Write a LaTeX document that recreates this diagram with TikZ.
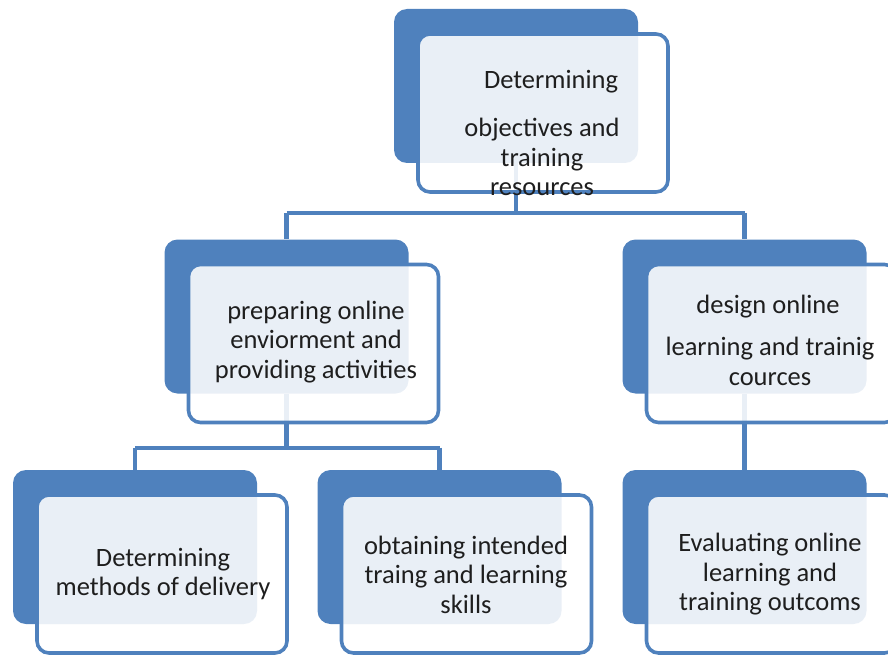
\documentclass[tikz,border=0pt]{standalone}
\usepackage{fontspec}
\setmainfont{Carlito}
\definecolor{obl}{HTML}{4F81BD}
\definecolor{txt}{HTML}{1E1E1E}
\begin{document}
\begin{tikzpicture}[x=1pt,y=-1pt,
  backbox/.style={fill=obl, rounded corners=13pt, minimum width=244pt, minimum height=154pt, inner sep=0pt},
  frontbox/.style={fill=white, fill opacity=0.88, draw=obl, draw opacity=1, line width=3.6pt, rounded corners=12pt, minimum width=250pt, minimum height=158pt, inner sep=0pt},
  label/.style={text=txt, align=center, font=\fontsize{26.5}{29.5}\selectfont, inner sep=0pt},
  conn/.style={draw=obl, line width=4.2pt}]
\useasboundingbox (0,0) rectangle (888,655);
% back boxes
\node[backbox] (tb) at (516,86) {};
\node[backbox] (mlb) at (286.5,316.5) {};
\node[backbox] (mrb) at (744.5,316.5) {};
\node[backbox] (blb) at (135,547) {};
\node[backbox] (bmb) at (439.5,547) {};
\node[backbox] (brb) at (744.5,547) {};
% connectors (behind front boxes)
\draw[conn] (tb.south) -- ++(0,50) coordinate (h1);
\draw[conn] (h1 -| mlb.north) -- (h1 -| mrb.north);
\draw[conn] (h1 -| mlb.north) -- (mlb.north);
\draw[conn] (h1 -| mrb.north) -- (mrb.north);
\draw[conn] (mlb.south) -- ++(0,54) coordinate (h2);
\draw[conn] (h2 -| blb.north) -- (h2 -| bmb.north);
\draw[conn] (h2 -| blb.north) -- (blb.north);
\draw[conn] (h2 -| bmb.north) -- (bmb.north);
\draw[conn] (mrb.south) -- (brb.north);
% front boxes
\node[frontbox] (tf) at ([shift={(27,27)}]tb.center) {};
\node[frontbox] (mlf) at ([shift={(27,27)}]mlb.center) {};
\node[frontbox] (mrf) at ([shift={(27,27)}]mrb.center) {};
\node[frontbox] (blf) at ([shift={(27,27)}]blb.center) {};
\node[frontbox] (bmf) at ([shift={(27,27)}]bmb.center) {};
\node[frontbox] (brf) at ([shift={(27,27)}]brb.center) {};
% texts
\node[label] (t1) at (551,82) {Determining};
\node[label] (t2) at (542,157) {objectives and\\training\\resources};
\node[label] (t3) at (316,342) {preparing online\\enviorment and\\providing activities};
\node[label] (t4a) at (768,307) {design online};
\node[label] (t4b) at (770,361.5) {learning and trainig\\cources};
\node[label] (t5) at (163,574) {Determining\\methods of delivery};
\node[label] (t6) at (466,574.5) {obtaining intended\\traing and learning\\skills};
\node[label] (t7) at (770,574.5) {Evaluating online\\learning and\\training outcoms};
\end{tikzpicture}
\end{document}
